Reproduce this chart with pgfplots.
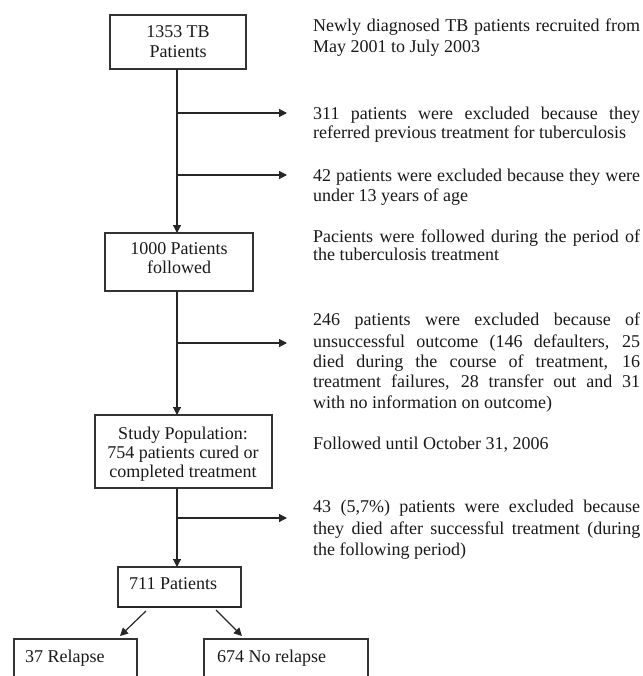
\documentclass[border=0pt]{standalone}
\usepackage{pgfplots}
\pgfplotsset{compat=1.18}
\usepackage{fontspec}
\setmainfont{Liberation Serif}
\usetikzlibrary{arrows.meta}
\newcommand{\fs}{\fontsize{18}{20.7}\selectfont}
\newcommand{\J}[1]{\makebox[327pt][s]{#1}}
\begin{document}
\begin{tikzpicture}
\begin{axis}[
  scale only axis, width=642pt, height=676pt,
  xmin=0, xmax=642, ymin=0, ymax=676, y dir=reverse,
  hide axis, clip=true,
]
\coordinate (bl) at (axis cs:0,676);
\coordinate (tr) at (axis cs:642,0);
% boxes
\addplot[draw=black!80, line width=1.3pt] coordinates {(110,15) (246,15) (246,69) (110,69)} -- cycle;
\addplot[draw=black!80, line width=1.3pt] coordinates {(105,233) (253,233) (253,291) (105,291)} -- cycle;
\addplot[draw=black!80, line width=1.3pt] coordinates {(95,415) (272,415) (272,488) (95,488)} -- cycle;
\addplot[draw=black!80, line width=1.3pt] coordinates {(118,567) (241,567) (241,607) (118,607)} -- cycle;
\addplot[draw=black!85, line width=2.4pt] coordinates {(118,607) (241,607)};
\addplot[draw=black!80, line width=1.3pt] coordinates {(14,690) (14,639) (137,639) (137,690)};
\addplot[draw=black!80, line width=1.3pt] coordinates {(204,690) (204,639) (368,639) (368,690)};
% main vertical arrows
\addplot[black!85, line width=1.2pt, -{Triangle[length=8pt,width=8pt]}] coordinates {(177,69) (177,233)};
\addplot[black!85, line width=1.2pt, -{Triangle[length=8pt,width=8pt]}] coordinates {(177,291) (177,415)};
\addplot[black!85, line width=1.2pt, -{Triangle[length=8pt,width=8pt]}] coordinates {(177,488) (177,567)};
% side arrows
\addplot[black!85, line width=1.2pt, -{Triangle[length=8pt,width=8pt]}] coordinates {(177,113) (287,113)};
\addplot[black!85, line width=1.2pt, -{Triangle[length=8pt,width=8pt]}] coordinates {(177,175) (287,175)};
\addplot[black!85, line width=1.2pt, -{Triangle[length=8pt,width=8pt]}] coordinates {(177,343) (287,343)};
\addplot[black!85, line width=1.2pt, -{Triangle[length=8pt,width=8pt]}] coordinates {(177,518) (287,518)};
% diagonal arrows
\addplot[black!85, line width=1.2pt, -{Triangle[length=8pt,width=8pt]}] coordinates {(146,611) (120,636)};
\addplot[black!85, line width=1.2pt, -{Triangle[length=8pt,width=8pt]}] coordinates {(216,610) (242,636)};

% box texts
\begin{scope}[every node/.style={inner sep=0pt, font=\fs, text=black!90}]
\node[anchor=base] at (axis cs:178,38) {1353 TB};
\node[anchor=base] at (axis cs:178,58) {Patients};
\node[anchor=base] at (axis cs:179,254) {1000 Patients};
\node[anchor=base] at (axis cs:179,273) {followed};
\node[anchor=base] at (axis cs:183,439) {Study Population:};
\node[anchor=base] at (axis cs:183,458) {754 patients cured or};
\node[anchor=base] at (axis cs:183,477) {completed treatment};
\node[anchor=base west] at (axis cs:129,589) {711 Patients};
\node[anchor=base west] at (axis cs:25,662) {37 Relapse};
\node[anchor=base west] at (axis cs:217,662) {674 No relapse};
% right texts
\node[anchor=base west] at (axis cs:313,32) {\J{Newly diagnosed TB patients recruited from}};
\node[anchor=base west] at (axis cs:313,53) {May 2001 to July 2003};
\node[anchor=base west] at (axis cs:313,120) {\J{311 patients were excluded because they}};
\node[anchor=base west] at (axis cs:313,139) {referred previous treatment for tuberculosis};
\node[anchor=base west] at (axis cs:313,182) {\J{42 patients were excluded because they were}};
\node[anchor=base west] at (axis cs:313,201) {under 13 years of age};
\node[anchor=base west] at (axis cs:313,242) {\J{Pacients were followed during the period of}};
\node[anchor=base west] at (axis cs:313,260) {the tuberculosis treatment};
\node[anchor=base west] at (axis cs:313,325) {\J{246 patients were excluded because of}};
\node[anchor=base west] at (axis cs:313,347) {\J{unsuccessful outcome (146 defaulters, 25}};
\node[anchor=base west] at (axis cs:313,367) {\J{died during the course of treatment, 16}};
\node[anchor=base west] at (axis cs:313,387) {\J{treatment failures, 28 transfer out and 31}};
\node[anchor=base west] at (axis cs:313,408) {with no information on outcome)};
\node[anchor=base west] at (axis cs:313,449) {Followed until October 31, 2006};
\node[anchor=base west] at (axis cs:313,512) {\J{43 (5,7\%) patients were excluded because}};
\node[anchor=base west] at (axis cs:313,534) {\J{they died after successful treatment (during}};
\node[anchor=base west] at (axis cs:313,555) {the following period)};
\end{scope}
\end{axis}
\pgfresetboundingbox
\path[use as bounding box] (bl) rectangle (tr);
\end{tikzpicture}
\end{document}
